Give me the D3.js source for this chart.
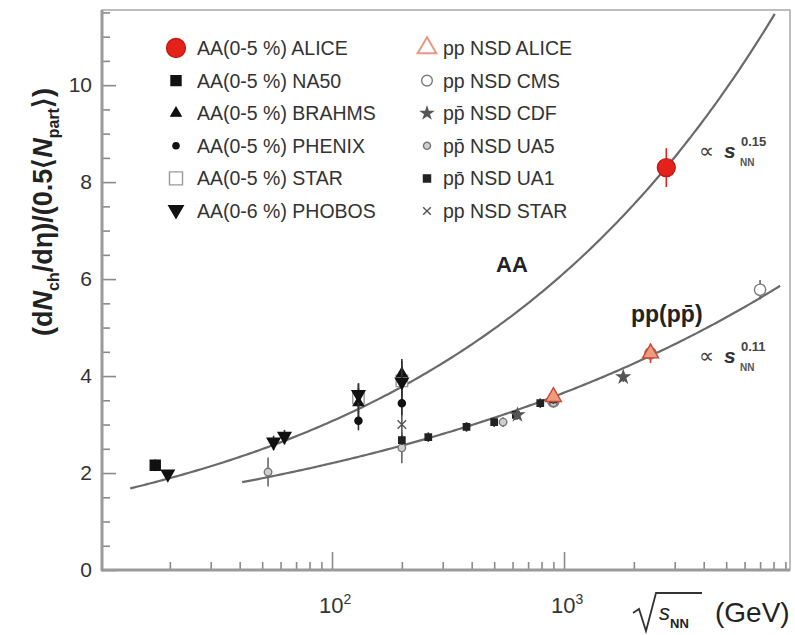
<!DOCTYPE html>
<html>
<head>
<meta charset="utf-8">
<script src="https://cdn.jsdelivr.net/npm/d3@7"></script>
<style>
  html, body { margin: 0; padding: 0; background: #fff; }
  svg { display: block; font-family: "Liberation Sans", Arial, sans-serif; }
</style>
</head>
<body>
<script>
// Charged-particle pseudorapidity density per participant pair vs. collision energy.
// Each row: [sqrt(s_NN) in GeV, value, error]
const aaAlice  = [[2760, 8.3, 0.4]];
const aaNA50   = [[17.3, 2.16, 0.12]];
const aaStar   = [[130, 3.55, 0.3], [200, 3.9, 0.3]];
const aaBrahms = [[130, 3.45, 0.3], [200, 4.05, 0.3]];
const aaPhenix = [[130, 3.08, 0.2], [200, 3.44, 0.25]];
const aaPhobos = [[19.6, 1.96, 0.1], [56, 2.62, 0.15], [62.4, 2.74, 0.15], [130, 3.6, 0.25], [200, 3.86, 0.45]];

const ppCMS    = [[900, 3.48, 0.1], [2360, 4.47, 0.15], [7000, 5.78, 0.2]];
const ppAlice  = [[900, 3.57, 0.12], [2360, 4.47, 0.2]];
const ppCDF    = [[630, 3.2, 0.1], [1800, 3.98, 0.1]];
const ppUA5    = [[53, 2.02, 0.3], [200, 2.52, 0.32], [546, 3.05, 0.1], [900, 3.45, 0.1]];
const ppUA1    = [[200, 2.68, 0.1], [260, 2.74, 0.1], [380, 2.95, 0.1], [500, 3.05, 0.1], [620, 3.2, 0.1], [790, 3.44, 0.1], [900, 3.52, 0.1]];
const ppSTAR   = [[200, 3.0, 0.35]];

// Power-law fits: dN/deta ∝ s^p, i.e. ∝ (sqrt s)^(2p)
const aaFit = { coef: 0.771, power: 0.15, from: 13.5, to: 8100 };
const ppFit = { coef: 0.80,  power: 0.11, from: 41,   to: 8540 };

const legendAA = ["AA(0-5 %) ALICE", "AA(0-5 %) NA50", "AA(0-5 %) BRAHMS", "AA(0-5 %) PHENIX", "AA(0-5 %) STAR", "AA(0-6 %) PHOBOS"];
const legendPP = ["pp NSD  ALICE", "pp NSD CMS", "pp\u0304 NSD CDF", "pp\u0304 NSD UA5", "pp\u0304 NSD UA1", "pp NSD STAR"];

const yMajor = [0, 2, 4, 6, 8, 10];
const yMinor = d3.range(0.5, 11.6, 0.5).filter(v => v % 2 !== 0);
const xMajor = [100, 1000];
const xMinor = [20, 30, 40, 50, 60, 70, 80, 90, 200, 300, 400, 500, 600, 700, 800, 900, 2000, 3000, 4000, 5000, 6000, 7000, 8000, 9000];

const W = 795, H = 635;
const svg = d3.select("body").append("svg").attr("width", W).attr("height", H);

const x = d3.scaleLog().domain([10.2, 9420]).range([102, 790]);
const y = d3.scaleLinear().domain([0, 11.55]).range([570, 10]);

// frame
svg.append("rect").attr("x", 102).attr("y", 10).attr("width", 688).attr("height", 560)
  .attr("fill", "none").attr("stroke", "#a8a8a8").attr("stroke-width", 1.5);

function styleAxis(g) {
  g.select(".domain").remove();
  g.selectAll(".tick line").attr("stroke", "#8a8a8a").attr("stroke-width", 1.6);
}

// x ticks (inward)
svg.append("g").attr("transform", "translate(0,570)")
  .call(d3.axisBottom(x).tickValues(xMinor).tickSize(-8).tickFormat(""))
  .call(styleAxis);
svg.append("g").attr("transform", "translate(0,570)")
  .call(d3.axisBottom(x).tickValues(xMajor).tickSize(-18).tickFormat(""))
  .call(styleAxis);

// y ticks (inward)
svg.append("g").attr("transform", "translate(102,0)")
  .call(d3.axisLeft(y).tickValues(yMinor).tickSize(-8).tickFormat(""))
  .call(styleAxis);
const yAx = svg.append("g").attr("transform", "translate(102,0)")
  .call(d3.axisLeft(y).tickValues(yMajor).tickSize(-14).tickPadding(10).tickFormat(d3.format("d")))
  .call(styleAxis);
yAx.selectAll(".tick text").attr("font-size", 21).attr("fill", "#333")
  .attr("font-family", "'Liberation Sans', Arial, sans-serif");

// axis lines
svg.append("line").attr("x1", 102).attr("x2", 102).attr("y1", 10).attr("y2", 571)
  .attr("stroke", "#9a9a9a").attr("stroke-width", 3);
svg.append("line").attr("x1", 101).attr("x2", 790).attr("y1", 570).attr("y2", 570)
  .attr("stroke", "#9a9a9a").attr("stroke-width", 3);

// x tick labels 10^2, 10^3
xMajor.forEach(v => {
  const t = svg.append("text").attr("x", x(v) - 13).attr("y", 613)
    .attr("font-size", 22).attr("fill", "#333");
  t.append("tspan").text("10");
  t.append("tspan").attr("dy", -9).attr("font-size", 14).text(Math.round(Math.log10(v)));
});

// x axis title: sqrt(s_NN) (GeV)
svg.append("path").attr("d", "M633,613 L639,609 L646,631 L656,593 L702,593")
  .attr("fill", "none").attr("stroke", "#333").attr("stroke-width", 1.8);
const xt = svg.append("text").attr("x", 659).attr("y", 620).attr("fill", "#222");
xt.append("tspan").attr("font-size", 22).attr("font-style", "italic").text("s");
xt.append("tspan").attr("font-size", 13).attr("dy", 8).attr("font-weight", "bold").text("NN");
svg.append("text").attr("x", 715).attr("y", 622).attr("font-size", 28).attr("fill", "#222").text("(GeV)");

// y axis title
const yt = svg.append("text").attr("transform", "translate(52,212) rotate(-90)")
  .attr("text-anchor", "middle").attr("font-size", 27).attr("fill", "#222").attr("font-weight", "bold");
yt.append("tspan").text("(d");
yt.append("tspan").attr("font-style", "italic").text("N");
yt.append("tspan").attr("font-size", 16).attr("dy", 7).text("ch");
yt.append("tspan").attr("dy", -7).text("/d\u03b7)/(0.5\u27e8");
yt.append("tspan").attr("font-style", "italic").text("N");
yt.append("tspan").attr("font-size", 16).attr("dy", 7).text("part");
yt.append("tspan").attr("dy", -7).text("\u27e9)");

// fit curves
function fitPoints(f) {
  const l0 = Math.log10(f.from), l1 = Math.log10(f.to);
  return d3.range(0, 201).map(i => {
    const e = Math.pow(10, l0 + (l1 - l0) * i / 200);
    return [e, f.coef * Math.pow(e, 2 * f.power)];
  });
}
const line = d3.line().x(d => x(d[0])).y(d => y(d[1])).curve(d3.curveLinear);
[aaFit, ppFit].forEach(f => {
  svg.append("path").attr("d", line(fitPoints(f)))
    .attr("fill", "none").attr("stroke", "#6a6a6a").attr("stroke-width", 2.2);
});

// marker styles
const triDown = { draw(ctx, size) { const s = Math.sqrt(size / 0.433) / 2;
  ctx.moveTo(-s, -s * 0.75); ctx.lineTo(s, -s * 0.75); ctx.lineTo(0, s * 1.0); ctx.closePath(); } };
const xMark = d3.symbolX || d3.symbolCross;
const styles = {
  aaAlice:  { type: d3.symbolCircle,   size: 250, fill: "#e3221c", stroke: "#c81810", err: "#e3221c" },
  aaNA50:   { type: d3.symbolSquare,   size: 100, fill: "#111",    stroke: "#111",    err: "#333" },
  aaBrahms: { type: d3.symbolTriangle, size: 45,  fill: "#111",    stroke: "#111",    err: "#333" },
  aaPhenix: { type: d3.symbolCircle,   size: 40,  fill: "#111",    stroke: "#111",    err: "#333" },
  aaStar:   { type: d3.symbolSquare,   size: 130, fill: "#fff",    stroke: "#999",    err: "#555" },
  aaPhobos: { type: triDown,           size: 70,  fill: "#111",    stroke: "#111",    err: "#333" },
  ppAlice:  { type: d3.symbolTriangle, size: 110, fill: "#ee9c80", stroke: "#cc4630", err: "#cc4630" },
  ppCMS:    { type: d3.symbolCircle,   size: 100, fill: "#fff",    stroke: "#7a7a7a", err: "#666" },
  ppCDF:    { type: d3.symbolStar,     size: 45,  fill: "#555",    stroke: "#555",    err: "#555" },
  ppUA5:    { type: d3.symbolCircle,   size: 45,  fill: "#cfcfcf", stroke: "#777",    err: "#666" },
  ppUA1:    { type: d3.symbolSquare,   size: 40,  fill: "#222",    stroke: "#222",    err: "#444" },
  ppSTAR:   { type: xMark,             size: 50,  fill: "none",    stroke: "#555",    err: "#555" }
};

function drawSeries(data, st) {
  const g = svg.append("g");
  g.selectAll("line.err").data(data).join("line")
    .attr("x1", d => x(d[0])).attr("x2", d => x(d[0]))
    .attr("y1", d => y(d[1] - d[2])).attr("y2", d => y(d[1] + d[2]))
    .attr("stroke", st.err).attr("stroke-width", 1.6);
  g.selectAll("path").data(data).join("path")
    .attr("transform", d => `translate(${x(d[0])},${y(d[1])})`)
    .attr("d", d3.symbol(st.type, st.size))
    .attr("fill", st.fill).attr("stroke", st.stroke).attr("stroke-width", 1.4);
}

drawSeries(ppCMS, styles.ppCMS);
drawSeries(ppUA5, styles.ppUA5);
drawSeries(ppSTAR, styles.ppSTAR);
drawSeries(ppUA1, styles.ppUA1);
drawSeries(ppCDF, styles.ppCDF);
drawSeries(ppAlice, styles.ppAlice);
drawSeries(aaStar, styles.aaStar);
drawSeries(aaBrahms, styles.aaBrahms);
drawSeries(aaPhobos, styles.aaPhobos);
drawSeries(aaPhenix, styles.aaPhenix);
drawSeries(aaNA50, styles.aaNA50);
drawSeries(aaAlice, styles.aaAlice);

// curve labels
svg.append("text").attr("x", 496).attr("y", 272).attr("font-size", 22).attr("font-weight", "bold")
  .attr("fill", "#222").text("AA");
const ppl = svg.append("text").attr("x", 631).attr("y", 322).attr("font-size", 23).attr("font-weight", "bold").attr("fill", "#222");
ppl.append("tspan").text("pp(p");
ppl.append("tspan").text("p\u0304");
ppl.append("tspan").text(")");

function powerLabel(yBase, exp) {
  svg.append("text").attr("x", 699).attr("y", yBase + 1).attr("font-size", 21).attr("fill", "#444").text("\u221d");
  svg.append("text").attr("x", 724).attr("y", yBase + 1).attr("font-size", 21).attr("font-style", "italic")
    .attr("font-weight", "bold").attr("fill", "#333").text("s");
  svg.append("text").attr("x", 741).attr("y", yBase - 11).attr("font-size", 13).attr("font-weight", "bold")
    .attr("fill", "#444").text(exp);
  svg.append("text").attr("x", 740).attr("y", yBase + 9).attr("font-size", 10).attr("font-weight", "bold")
    .attr("fill", "#555").text("NN");
}
powerLabel(157, aaFit.power.toFixed(2));
powerLabel(362, ppFit.power.toFixed(2));

// legends
const legAAkeys = ["aaAlice", "aaNA50", "aaBrahms", "aaPhenix", "aaStar", "aaPhobos"];
const legPPkeys = ["ppAlice", "ppCMS", "ppCDF", "ppUA5", "ppUA1", "ppSTAR"];
const legSize = { aaAlice: 280, aaNA50: 100, aaBrahms: 45, aaPhenix: 30, aaStar: 170, aaPhobos: 90,
  ppAlice: 150, ppCMS: 90, ppCDF: 40, ppUA5: 40, ppUA1: 50, ppSTAR: 40 };
function drawLegend(keys, labels, mx, tx) {
  keys.forEach((k, i) => {
    const cy = 48 + i * 32.6;
    const st = styles[k];
    svg.append("path").attr("transform", `translate(${mx},${cy})`)
      .attr("d", d3.symbol(st.type, legSize[k]))
      .attr("fill", k === "ppAlice" ? "#fff" : st.fill)
      .attr("stroke", k === "ppAlice" ? "#e59a84" : st.stroke).attr("stroke-width", k === "ppAlice" ? 2 : 1.4);
    svg.append("text").attr("x", tx).attr("y", cy + 7).attr("font-size", 19.5).attr("fill", "#333")
      .text(labels[i]);
  });
}
drawLegend(legAAkeys, legendAA, 176, 197);
drawLegend(legPPkeys, legendPP, 427, 443);
</script>
</body>
</html>
